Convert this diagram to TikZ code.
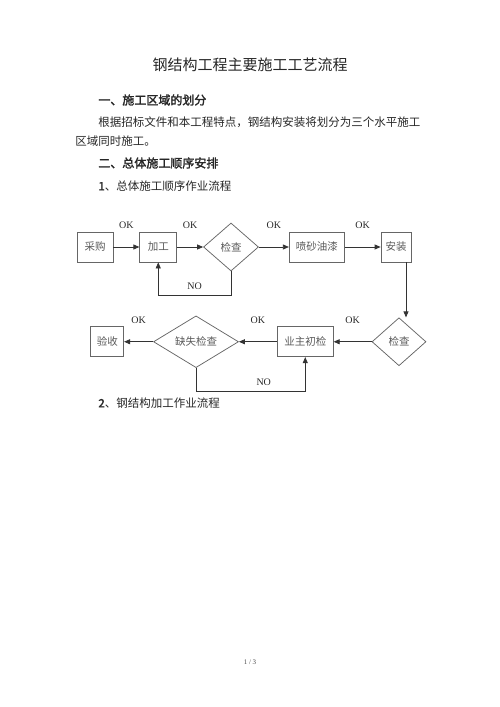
\documentclass[tikz,border=0pt]{standalone}
\usepackage{fontspec}
\setmainfont{Liberation Serif}
\newfontfamily\cjk[AutoFakeBold=2]{Noto Sans CJK SC}
\usetikzlibrary{positioning,shapes.geometric,arrows.meta}
\tikzset{every picture/.style={line width=0.75pt}}

\begin{document}
\begin{tikzpicture}[x=1pt,y=-1pt,
		box/.style={shape=rectangle, draw=black!60, minimum height=30pt, inner sep=0pt,
			font=\cjk\fontsize{10.5}{12}\selectfont, text=black!65},
		dia/.style={shape=diamond, draw=black!60, inner sep=0pt, minimum height=48pt,
			font=\cjk\fontsize{10.5}{12}\selectfont, text=black!65},
		arr/.style={draw=black!80, -{Triangle[length=6pt,width=5pt]}},
		lbl/.style={font=\fontsize{10}{12}\selectfont, inner sep=0pt, text=black!85},
		txt/.style={font=\cjk\fontsize{11.5}{14}\selectfont, anchor=west, inner sep=0pt, text=black!85},
		head/.style={txt, font=\cjk\bfseries\fontsize{12}{14}\selectfont}
	]
	\useasboundingbox (0,0) rectangle (500,707);
	
	% page text
	\node[font=\cjk\fontsize{15}{18}\selectfont, inner sep=0pt, text=black!85] (title) at (250,65) {钢结构工程主要施工工艺流程};
	\node[head] (h1) at (98,100) {一、施工区域的划分};
	\node[txt] (p1) at (98,122) {根据招标文件和本工程特点，钢结构安装将划分为三个水平施工};
	\node[txt] (p2) at (75,141) {区域同时施工。};
	\node[head] (h2) at (98,163) {二、总体施工顺序安排};
	\node[txt] (s1) at (98,186) {\textbf{1}、总体施工顺序作业流程};
	\node[txt] (s2) at (98,403) {\textbf{2}、钢结构加工作业流程};
	\node[font=\fontsize{7}{8}\selectfont, inner sep=0pt, text=black!70] (pg) at (250,662) {1 / 3};
	
	% flow, first row
	\node[box, minimum width=36pt] (cg) at (95,247) {采购};
	\node[box, minimum width=37pt, right=26pt of cg] (jg) {加工};
	\node[dia, minimum width=55pt, right=26pt of jg] (jc1) {检查};
	\node[box, minimum width=55pt, right=30pt of jc1] (ps) {喷砂油漆};
	\node[box, minimum width=30pt, right=36pt of ps] (az) {安装};
	
	% flow, second row
	\node[dia, minimum width=54pt, below=55pt of az, xshift=3pt] (jc2) {检查};
	\node[box, minimum width=56pt, left=38pt of jc2] (yz) {业主初检};
	\node[dia, minimum width=85pt, left=38pt of yz] (qs) {缺失检查};
	\node[box, minimum width=33pt, left=29pt of qs] (ys) {验收};
	
	\draw[arr] (cg) -- node[lbl, above=18pt] {OK} (jg);
	\draw[arr] (jg) -- node[lbl, above=18pt] {OK} (jc1);
	\draw[arr] (jc1) -- node[lbl, above=18pt] {OK} (ps);
	\draw[arr] (ps) -- node[lbl, above=18pt] {OK} (az);
	\draw[arr] (jc1.south) -- ++(0,24) -| node[lbl, pos=0.25, above=5pt] {NO} (jg.south);
	\draw[arr] ([xshift=10pt]az.south) -- ([xshift=10pt]az.south |- jc2.north);
	\draw[arr] (jc2) -- node[lbl, above=18pt] {OK} (yz);
	\draw[arr] (yz) -- node[lbl, above=18pt] {OK} (qs);
	\draw[arr] (qs) -- node[lbl, above=18pt] {OK} (ys);
	\draw[arr] (qs.south) -- ++(0,23) -| node[lbl, pos=0.31, above=5pt] {NO} (yz.south);
\end{tikzpicture}
\end{document}
